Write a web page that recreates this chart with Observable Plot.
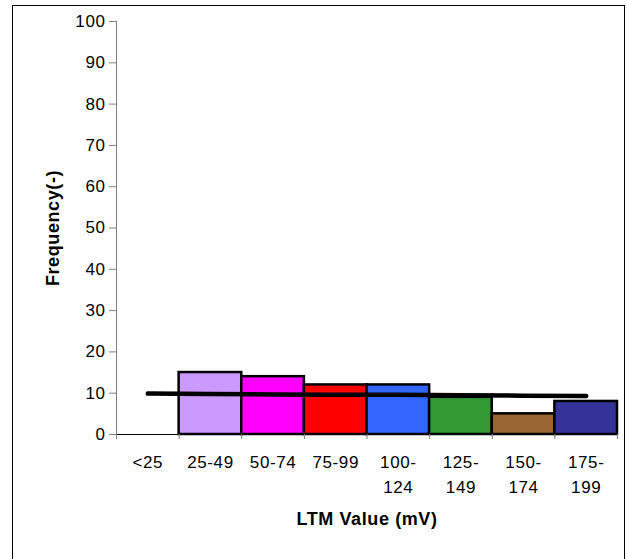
<!DOCTYPE html>
<html>
<head>
<meta charset="utf-8">
<script src="https://cdn.jsdelivr.net/npm/d3@7"></script>
<script src="https://cdn.jsdelivr.net/npm/@observablehq/plot@0.6"></script>
<style>
  html, body { margin: 0; padding: 0; background: #fff; }
  #wrap { position: relative; width: 627px; height: 559px; overflow: hidden; }
  #border { position: absolute; left: 12px; top: 5px; width: 613px; height: 600px; border: 1.5px solid #000; box-sizing: border-box; }
  #chart { position: absolute; left: 0; top: 0; }
  #chart text { letter-spacing: 0.6px; }
</style>
</head>
<body>
<div id="wrap"><div id="border"></div><div id="chart"></div></div>
<script>
const categories = ["<25", "25-49", "50-74", "75-99", "100-\n124", "125-\n149", "150-\n174", "175-\n199"];
const counts = [0, 15, 14, 12, 12, 9, 5, 8];
const lineValues = [9.9, 9.8, 9.7, 9.6, 9.6, 9.5, 9.4, 9.3];
const barColors = ["#ffffff", "#cc99ff", "#ff00ff", "#ff0000", "#3366ff", "#339933", "#996633", "#333399"];
const yTicks = [0, 10, 20, 30, 40, 50, 60, 70, 80, 90, 100];

const data = categories.map((c, i) => ({i, label: c, count: counts[i], line: lineValues[i], color: barColors[i]}));
const bars = data.filter(d => d.count > 0);

const chart = Plot.plot({
  width: 627,
  height: 559,
  marginLeft: 116,
  marginRight: 10,
  marginTop: 21,
  marginBottom: 125,
  style: {fontFamily: "Arial, 'Liberation Sans', sans-serif", fontSize: "17px", background: "transparent", color: "#000"},
  x: {type: "linear", domain: [0, categories.length], axis: null},
  y: {type: "linear", domain: [0, 100], axis: null},
  marks: [
    Plot.rectY(bars, {x1: d => d.i, x2: d => d.i + 1, y1: 0, y2: "count", fill: d => d.color, stroke: "#000", strokeWidth: 2.5}),
    Plot.line(data, {x: d => d.i + 0.5, y: "line", stroke: "#000", strokeWidth: 4.5, strokeLinecap: "round"}),
    Plot.ruleX([0], {y1: 0, y2: 100, stroke: "#808080", strokeWidth: 1}),
    Plot.ruleY([0], {x1: 0, x2: categories.length, stroke: "#000", strokeWidth: 1}),
    Plot.axisY({ticks: yTicks, tickSize: 7, tickPadding: 4, stroke: "#808080", fill: "#000", fontSize: 17, label: null}),
    Plot.axisX({ticks: d3.range(0, categories.length + 1), tickFormat: () => "", tickSize: 5, stroke: "#808080", label: null}),
    Plot.text(data, {x: d => d.i + 0.5, y: 0, text: "label", lineAnchor: "top", dy: 15.5, lineHeight: 1.47, fontSize: 17, fill: "#000"}),
    Plot.text(["LTM Value (mV)"], {frameAnchor: "bottom", textAnchor: "middle", text: d => d, dy: 90, fontWeight: "bold", fontSize: 18, fill: "#000"}),
    Plot.text(["Frequency(-)"], {frameAnchor: "left", textAnchor: "middle", text: d => d, rotate: -90, dx: -63, fontWeight: "bold", fontSize: 18, fill: "#000"})
  ]
});
document.getElementById("chart").appendChild(chart);
</script>
</body>
</html>
